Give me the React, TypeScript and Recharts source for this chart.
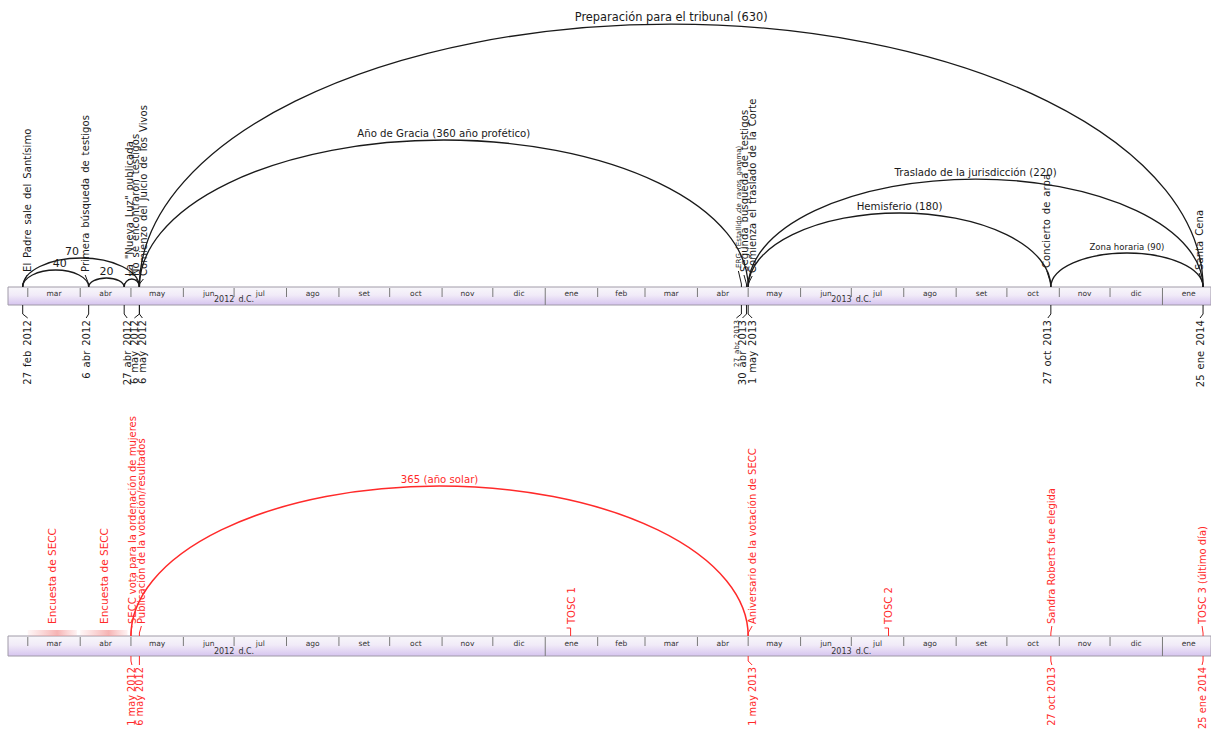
import React from 'react';
import { ComposedChart, XAxis, YAxis, Scatter, ReferenceArea, ReferenceLine } from 'recharts';

// ---------------- data ----------------
const monthStarts = ['2012-03-01', '2012-04-01', '2012-05-01', '2012-06-01', '2012-07-01', '2012-08-01', '2012-09-01', '2012-10-01', '2012-11-01', '2012-12-01', '2013-01-01', '2013-02-01', '2013-03-01', '2013-04-01', '2013-05-01', '2013-06-01', '2013-07-01', '2013-08-01', '2013-09-01', '2013-10-01', '2013-11-01', '2013-12-01', '2014-01-01', '2014-02-01'];
const monthLabels = ['mar', 'abr', 'may', 'jun', 'jul', 'ago', 'set', 'oct', 'nov', 'dic', 'ene', 'feb', 'mar', 'abr', 'may', 'jun', 'jul', 'ago', 'set', 'oct', 'nov', 'dic', 'ene'];
const yearStarts = ['2013-01-01', '2014-01-01'];
const yearLabelDates = ['2012-07-01', '2013-07-01'];
const yearLabels = ['2012 d.C.', '2013 d.C.'];

// top timeline: arcs
const topArcStart = ['2012-02-27', '2012-02-27', '2012-04-06', '2012-04-27', '2012-05-06', '2012-05-06', '2013-05-01', '2013-05-01', '2013-10-27'];
const topArcEnd = ['2012-04-06', '2012-05-06', '2012-04-27', '2012-05-06', '2013-05-01', '2014-01-25', '2014-01-25', '2013-10-27', '2014-01-25'];
const topArcHeight = [17, 29, 9, 8, 147, 263, 108, 74, 34];
const topArcLabel = ['40', '70', '20', '10', 'Año de Gracia (360 año profético)', 'Preparación para el tribunal (630)', 'Traslado de la jurisdicción (220)', 'Hemisferio (180)', 'Zona horaria (90)'];

// top timeline: events
const topEventDate = ['2012-02-27', '2012-04-06', '2012-04-27', '2012-05-06', '2012-05-06', '2013-04-27', '2013-04-30', '2013-05-01', '2013-10-27', '2014-01-25'];
const topEventLabel = ['El Padre sale del Santísimo', 'Primera búsqueda de testigos', 'La "Nueva Luz" publicada', 'No se encontraron testigos', 'Comienzo del Juicio de los Vivos', 'ERG (Estallido de rayos gamma)', 'Segunda búsqueda de testigos', 'Comienza el traslado de la Corte', 'Concierto de arpa', 'Santa Cena'];
const topDateLabel = ['27 feb 2012', '6 abr 2012', '27 abr 2012', '6 may 2012', '6 may 2012', '27 abr 2013', '30 abr 2013', '1 may 2013', '27 oct 2013', '25 ene 2014'];

// bottom timeline
const redArcStart = ['2012-05-01'];
const redArcEnd = ['2013-05-01'];
const redArcHeight = [150];
const redArcLabel = ['365 (año solar)'];

const surveyStart = ['2012-03-01', '2012-04-01'];
const surveyEnd = ['2012-03-30', '2012-04-29'];
const surveyLabel = ['Encuesta de SECC', 'Encuesta de SECC'];

const redEventDate = ['2012-05-01', '2012-05-06', '2013-01-16', '2013-05-01', '2013-07-23', '2013-10-27', '2014-01-25'];
const redEventLabel = ['SECC vota para la ordenación de mujeres', 'Publicación de la votación/resultados', 'TOSC 1', 'Aniversario de la votación de SECC', 'TOSC 2', 'Sandra Roberts fue elegida', 'TOSC 3 (último día)'];
const redDateDate = ['2012-05-01', '2012-05-06', '2013-05-01', '2013-10-27', '2014-01-25'];
const redDateLabel = ['1 may 2012', '6 may 2012', '1 may 2013', '27 oct 2013', '25 ene 2014'];

// ---------------- layout (pixels, not data) ----------------
const FONT = 'DejaVu Sans, sans-serif';
const BLACK = '#1a1a1a';
const RED = '#ff2a2a';
const X_DOMAIN: [number, number] = [48.3, 759.7];
const arcLabelNudge: Record<string, number> = { '40': 4, '70': -9 };
const arcLabelSize: Record<string, number> = { '40': 11, '70': 11, '20': 11, '10': 6, 'Zona horaria (90)': 8.5, 'Preparación para el tribunal (630)': 11.4 };
const topEventShift = [4.5, -3.5, 5, -3.5, 4, -3, -2.5, 4, -4, -4];
const topEventSize = [10, 10, 10, 10, 10, 7, 10, 10, 10, 10];
const topEventGap = [15, 15, 11, 11, 11, 19, 15, 14, 19, 17];
const topDateShift = [5, -2.5, 3, -5, 3, -5, -4, 4, -3, -3];
const topDateSize = [10, 10, 10, 10, 10, 7, 10, 10, 10, 10];
const redEventShift = [1, 2, 1, 4, 0, 1, -1];
const redEventConn = ['line', 'line', 'tee', 'line', 'tee', 'line', 'line'];
const redDateShift = [1, 0, 4, 1, -1];
const BLACK_LS = 0.1;
const BLACK_WS = 1.5;

const dayOf = (s: string) => {
  const [y, m, d] = s.split('-').map(Number);
  return (Date.UTC(y, m - 1, d) - Date.UTC(2012, 0, 1)) / 86400000;
};

// ---------------- shapes ----------------
const makeArcShape = (label: string, color: string, width: number) => (p: any) => {
  const { x, y, width: w, height: h } = p;
  const base = y + h;
  const d = `M${x},${base} A${w / 2},${h} 0 0 1 ${x + w},${base}`;
  const fs = arcLabelSize[label] ?? 10.2;
  const nudge = arcLabelNudge[label] ?? 0;
  return (
    <g>
      <path d={d} fill="none" stroke={color} strokeWidth={width} />
      <text x={x + w / 2 + nudge} y={y - 3} textAnchor="middle" fontSize={fs} fill={color} fontFamily={FONT}>
        {label}
      </text>
    </g>
  );
};

const UpLabel = (p: any) => {
  const { cx, cy, payload } = p;
  const { label, shift, fs, color, gap, conn, ls, ws } = payload;
  const gx = cx + shift;
  const ax = gx + fs * 0.36;
  const ty = cy - gap;
  let path = '';
  if (conn === 'hook') path = `M${cx},${cy} L${cx},${cy - 3} L${gx},${cy - gap + 3}`;
  else if (conn === 'line') path = `M${cx},${cy} L${cx},${cy - 3} L${gx},${cy - gap + 2}`;
  else if (conn === 'tee') path = `M${cx},${cy} V${cy - gap + 4} H${cx - 4}`;
  return (
    <g>
      {path && <path d={path} stroke={color} fill="none" strokeWidth={1} />}
      <text x={ax} y={ty} transform={`rotate(-90 ${ax} ${ty})`} fontSize={fs} fill={color} fontFamily={FONT} letterSpacing={ls} wordSpacing={ws}>
        {label}
      </text>
    </g>
  );
};

const DownLabel = (p: any) => {
  const { cx, cy, payload } = p;
  const { label, shift, fs, color, gap, ls, ws } = payload;
  const gx = cx + shift;
  const ax = gx + fs * 0.36;
  const ty = cy + gap;
  const path = `M${cx},${cy} L${cx},${cy + gap - 6} L${gx},${cy + gap - 2}`;
  return (
    <g>
      <path d={path} stroke={color} fill="none" strokeWidth={1} />
      <text x={ax} y={ty} transform={`rotate(-90 ${ax} ${ty})`} textAnchor="end" fontSize={fs} fill={color} fontFamily={FONT} letterSpacing={ls} wordSpacing={ws}>
        {label}
      </text>
    </g>
  );
};

const AxisText = (p: any) => {
  const { cx, cy, payload } = p;
  return (
    <text x={cx} y={cy} textAnchor="middle" dominantBaseline="central" fontSize={payload.fs} fill="#333" fontFamily={FONT} wordSpacing={1.5}>
      {payload.label}
    </text>
  );
};

// ---------------- builders ----------------
function bandElements(gradId: string, h: number, tickH: number) {
  const els: any[] = [];
  els.push(
    <ReferenceArea key="band" x1={X_DOMAIN[0]} x2={X_DOMAIN[1]} y1={0} y2={-h} fill={`url(#${gradId})`} fillOpacity={1} stroke="#a09aa8" strokeWidth={1} />
  );
  monthStarts.forEach((m, i) => {
    const d = dayOf(m);
    const isYear = yearStarts.includes(m);
    els.push(
      <ReferenceLine key={'mt' + i} segment={[{ x: d, y: -1 }, { x: d, y: isYear ? -h : -tickH }]} stroke="#7a7a7a" strokeWidth={1} />
    );
  });
  return els;
}

function axisTextData(monthY: number, yearY: number) {
  const pts: any[] = [];
  monthLabels.forEach((lab, i) => {
    const mid = (dayOf(monthStarts[i]) + dayOf(monthStarts[i + 1])) / 2;
    pts.push({ x: mid, y: monthY, label: lab, fs: 7.5 });
  });
  yearLabels.forEach((lab, i) => pts.push({ x: dayOf(yearLabelDates[i]), y: yearY, label: lab, fs: 8 }));
  return pts;
}

const topEventPts = topEventDate.map((d, i) => ({
  x: dayOf(d), y: 0, label: topEventLabel[i], shift: topEventShift[i], fs: topEventSize[i], color: BLACK, gap: topEventGap[i], conn: 'hook', ls: BLACK_LS, ws: BLACK_WS,
}));
const topDatePts = topEventDate.map((d, i) => ({
  x: dayOf(d), y: -18, label: topDateLabel[i], shift: topDateShift[i], fs: topDateSize[i], color: BLACK, gap: 15, ls: BLACK_LS, ws: BLACK_WS,
}));
const redEventPts = redEventDate.map((d, i) => ({
  x: dayOf(d), y: 0, label: redEventLabel[i], shift: redEventShift[i], fs: 10, color: RED, gap: 12, conn: redEventConn[i], ls: 0, ws: 0,
}));
const surveyPts = surveyStart.map((s, i) => ({
  x: (dayOf(s) + dayOf(surveyEnd[i])) / 2, y: 0, label: surveyLabel[i], shift: 0, fs: 10.5, color: RED, gap: 12, conn: 'none', ls: 0, ws: 0,
}));
const redDatePts = redDateDate.map((d, i) => ({
  x: dayOf(d), y: -20, label: redDateLabel[i], shift: redDateShift[i], fs: 9.8, color: RED, gap: 11, ls: 0, ws: 0,
}));

export default function App() {
  return (
    <div style={{ position: 'absolute', left: 0, top: 0, width: 1211, height: 731, background: '#fff', overflow: 'hidden' }}>
      <div style={{ position: 'absolute', left: 0, top: 0 }}>
        <ComposedChart width={1211} height={400} margin={{ top: 0, right: 0, bottom: 0, left: 8 }}>
          <defs>
            <linearGradient id="bandTop" x1="0" y1="0" x2="0" y2="1">
              <stop offset="0%" stopColor="#f8f7fa" />
              <stop offset="45%" stopColor="#f1ebf8" />
              <stop offset="100%" stopColor="#d6c4ef" />
            </linearGradient>
          </defs>
          <XAxis type="number" dataKey="x" domain={X_DOMAIN} hide />
          <YAxis type="number" dataKey="y" domain={[-113, 287]} hide />
          {bandElements('bandTop', 18, 10)}
          {topArcStart.map((s, i) => (
            <ReferenceArea
              key={'ta' + i}
              x1={dayOf(s)}
              x2={dayOf(topArcEnd[i])}
              y1={0}
              y2={topArcHeight[i]}
              shape={makeArcShape(topArcLabel[i], BLACK, 1.3)}
            />
          ))}
          <Scatter data={axisTextData(-6, -12)} shape={AxisText} isAnimationActive={false} />
          <Scatter data={topEventPts} shape={UpLabel} isAnimationActive={false} />
          <Scatter data={topDatePts} shape={DownLabel} isAnimationActive={false} />
        </ComposedChart>
      </div>
      <div style={{ position: 'absolute', left: 0, top: 400 }}>
        <ComposedChart width={1211} height={331} margin={{ top: 0, right: 0, bottom: 0, left: 8 }}>
          <defs>
            <linearGradient id="bandBot" x1="0" y1="0" x2="0" y2="1">
              <stop offset="0%" stopColor="#f8f7fa" />
              <stop offset="45%" stopColor="#f1ebf8" />
              <stop offset="100%" stopColor="#d6c4ef" />
            </linearGradient>
            <linearGradient id="pinkFade" x1="0" y1="0" x2="1" y2="0">
              <stop offset="0%" stopColor="#f7a8a8" stopOpacity={0.1} />
              <stop offset="60%" stopColor="#f39a9a" stopOpacity={0.75} />
              <stop offset="100%" stopColor="#f7a8a8" stopOpacity={0.15} />
            </linearGradient>
          </defs>
          <XAxis type="number" dataKey="x" domain={X_DOMAIN} hide />
          <YAxis type="number" dataKey="y" domain={[-95, 236]} hide />
          {bandElements('bandBot', 20, 10)}
          {surveyStart.map((s, i) => (
            <ReferenceArea key={'sv' + i} x1={dayOf(s)} x2={dayOf(surveyEnd[i])} y1={0} y2={6} fill="url(#pinkFade)" fillOpacity={1} stroke="none" />
          ))}
          {redArcStart.map((s, i) => (
            <ReferenceArea
              key={'ra' + i}
              x1={dayOf(s)}
              x2={dayOf(redArcEnd[i])}
              y1={0}
              y2={redArcHeight[i]}
              shape={makeArcShape(redArcLabel[i], RED, 1.5)}
            />
          ))}
          <Scatter data={axisTextData(-7, -15)} shape={AxisText} isAnimationActive={false} />
          <Scatter data={surveyPts} shape={UpLabel} isAnimationActive={false} />
          <Scatter data={redEventPts} shape={UpLabel} isAnimationActive={false} />
          <Scatter data={redDatePts} shape={DownLabel} isAnimationActive={false} />
        </ComposedChart>
      </div>
    </div>
  );
}
